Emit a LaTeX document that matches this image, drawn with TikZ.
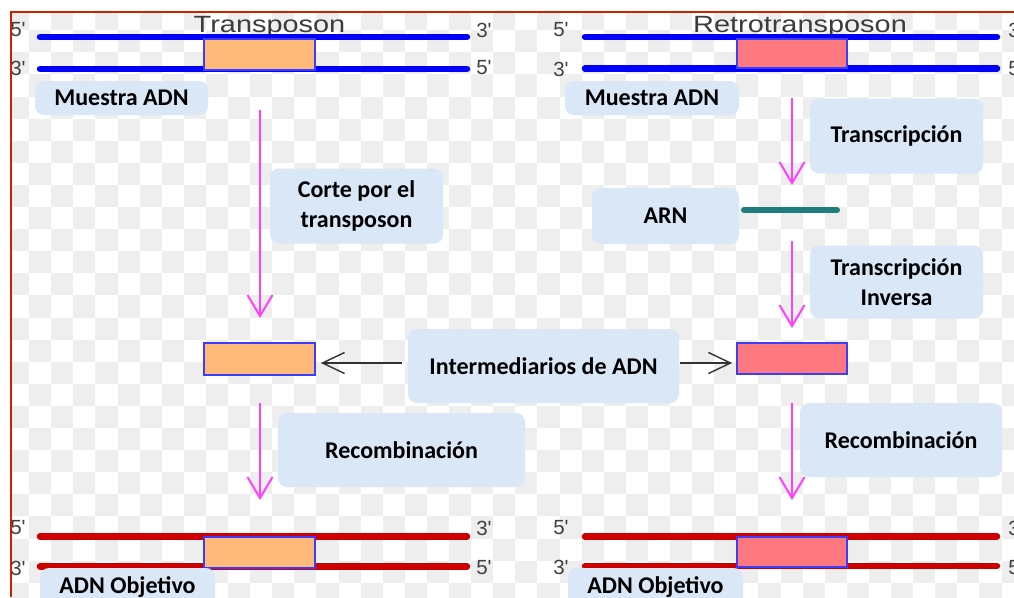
\documentclass[tikz,border=0pt]{standalone}
\usepackage{fontspec}
\usepackage{graphicx}
\setmainfont{Carlito}
\newfontfamily\lfont{Liberation Sans}
\usetikzlibrary{arrows.meta}
\definecolor{boxblue}{RGB}{217,231,246}
\definecolor{dnablue}{RGB}{0,0,255}
\definecolor{dnared}{RGB}{204,0,0}
\definecolor{rectblue}{RGB}{60,60,255}
\definecolor{orangefill}{RGB}{255,185,120}
\definecolor{pinkfill}{RGB}{255,120,125}
\definecolor{mag}{RGB}{255,64,255}
\definecolor{rnateal}{RGB}{30,125,125}
\definecolor{framered}{RGB}{204,34,0}
\definecolor{checker}{RGB}{238,238,238}
\definecolor{lblgray}{RGB}{64,64,64}
\definecolor{hdrgray}{RGB}{60,60,60}
\definecolor{arrgray}{RGB}{50,50,50}
\tikzset{
  lbox/.style={rounded corners=9pt, fill=boxblue, text=black, inner sep=0pt,
    font=\bfseries\fontsize{24}{30}\selectfont, align=center},
  strandblue/.style={line width=6.5pt, draw=dnablue, line cap=round},
  strandred/.style={line width=6.5pt, draw=dnared, line cap=round},
  tpbox/.style={draw=rectblue, line width=1.8pt, fill=orangefill, inner sep=0pt},
  retbox/.style={draw=rectblue, line width=1.8pt, fill=pinkfill, inner sep=0pt},
  magarrow/.style={draw=mag, line width=2pt, -{Straight Barb[length=21pt,width=25pt,line width=2pt]}},
  blkarrow/.style={draw=arrgray, line width=1.4pt, -{Straight Barb[length=22pt,width=21pt,line width=1.4pt]}},
  endlbl/.style={font=\lfont\fontsize{20.5}{20}\selectfont, text=lblgray, inner sep=0pt},
  hdr/.style={font=\lfont\fontsize{23.5}{24}\selectfont, text=hdrgray, inner sep=0pt, anchor=base},
  rnaline/.style={draw=rnateal, line width=6pt, line cap=round}
}
\begin{document}
\begin{tikzpicture}[x=1pt,y=-1pt]
\useasboundingbox (0,0) rectangle (1014,597);
\fill[white] (0,0) rectangle (1014,597);
\begin{scope}
\clip (11.5,12) rectangle (1014,597);
% checkerboard background
\foreach \i in {0,...,45}{
  \foreach \j in {0,...,26}{
    \pgfmathtruncatemacro\p{mod(\i+\j,2)}
    \ifnum\p=0
      \fill[checker] (7+22.1*\i,8.1+22.1*\j) rectangle ++(22.1,22.1);
    \fi
  }
}
% headers
\node[hdr] (h1) at (269.5,32) {\scalebox{1.23}[1]{Transposon}};
\node[hdr] (h2) at (800,32) {\scalebox{1.23}[1]{Retrotransposon}};
% strands
\draw[strandblue] (40,37) -- (467,37);
\draw[strandblue] (40,69) -- (467,69);
\draw[strandblue] (585,37) -- (997,37);
\draw[strandblue] (585,68.5) -- (997,68.5);
\draw[strandred] (40,536.5) -- (467,536.5);
\draw[strandred] (40,566.5) -- (467,566.5);
\draw[strandred] (585,536.5) -- (997,536.5);
\draw[strandred] (585,566) -- (997,566);
% element boxes
\node[tpbox, minimum width=111pt, minimum height=31pt] (t1) at (259.5,54.5) {};
\node[tpbox, minimum width=111pt, minimum height=32pt] (t2) at (259.5,359) {};
\node[tpbox, minimum width=111pt, minimum height=31pt] (t3) at (259.5,552.5) {};
\node[retbox, minimum width=110pt, minimum height=29pt] (r1) at (792,53.5) {};
\node[retbox, minimum width=110pt, minimum height=31pt] (r2) at (792,358.5) {};
\node[retbox, minimum width=110pt, minimum height=30pt] (r3) at (792,552) {};
% end labels
\node[endlbl] (l1) at (18,30) {5'};
\node[endlbl] (l2) at (18,68) {3'};
\node[endlbl] (l3) at (484,30) {3'};
\node[endlbl] (l4) at (484,68) {5'};
\node[endlbl] (l5) at (18,528) {5'};
\node[endlbl] (l6) at (18,568) {3'};
\node[endlbl] (l7) at (484,528) {3'};
\node[endlbl] (l8) at (484,568) {5'};
\node[endlbl] (l9) at (561,30) {5'};
\node[endlbl] (l10) at (561,69) {3'};
\node[endlbl] (l11) at (1016,30) {3'};
\node[endlbl] (l12) at (1016,69) {5'};
\node[endlbl] (l13) at (561,528) {5'};
\node[endlbl] (l14) at (561,567) {3'};
\node[endlbl] (l15) at (1016,528) {3'};
\node[endlbl] (l16) at (1016,568) {5'};
% label boxes
\node[lbox, minimum width=173pt, minimum height=34pt] (m1) at (121.5,98) {Muestra ADN};
\node[lbox, minimum width=174pt, minimum height=34pt] (m2) at (652,98) {Muestra ADN};
\node[lbox, minimum width=173pt, minimum height=75pt] (corte) at (356.5,206) {Corte por el\\transposon};
\node[lbox, minimum width=271pt, minimum height=74pt] (inter) at (543.5,366) {Intermediarios de ADN};
\node[lbox, minimum width=247pt, minimum height=74pt] (rec1) at (401.5,450) {Recombinación};
\node[lbox, minimum width=175pt, minimum height=38pt] (obj1) at (127.5,587) {ADN Objetivo};
\node[lbox, minimum width=173pt, minimum height=75pt] (transc) at (896.5,136) {Transcripción};
\node[lbox, minimum width=147pt, minimum height=56pt] (arn) at (665.5,216) {ARN};
\node[lbox, minimum width=173pt, minimum height=73pt] (inv) at (896.5,282) {Transcripción\\Inversa};
\node[lbox, minimum width=202pt, minimum height=74pt] (rec2) at (901,440) {Recombinación};
\node[lbox, minimum width=175pt, minimum height=38pt] (obj2) at (655.5,587) {ADN Objetivo};
% RNA strand
\coordinate (rna0) at (744,210);
\coordinate (rna1) at (837,210);
\draw[rnaline] (rna0) -- (rna1);
% magenta arrows
\coordinate (a1s) at (260,110);
\coordinate (a1e) at (260,318);
\draw[magarrow] (a1s) -- (a1e);
\coordinate (a2s) at (260,403);
\coordinate (a2e) at (260,500);
\draw[magarrow] (a2s) -- (a2e);
\coordinate (b1s) at (792,98);
\coordinate (b1e) at (792,185);
\draw[magarrow] (b1s) -- (b1e);
\coordinate (b2s) at (792,241);
\coordinate (b2e) at (792,328);
\draw[magarrow] (b2s) -- (b2e);
\coordinate (b3s) at (792,403);
\coordinate (b3e) at (792,500);
\draw[magarrow] (b3s) -- (b3e);
% black arrows from intermediates
\coordinate (ia) at ([yshift=3pt]inter.west);
\coordinate (ib) at (ia -| t2.east);
\draw[blkarrow, shorten <=6pt, shorten >=5pt] (ia) -- (ib);
\coordinate (ic) at ([yshift=3pt]inter.east);
\coordinate (id) at (ic -| r2.west);
\draw[blkarrow, shorten <=1pt, shorten >=4pt] (ic) -- (id);
\end{scope}
% frame
\draw[framered, line width=2.5pt] (11,597) -- (11,12) -- (1014,12);
\end{tikzpicture}
\end{document}
